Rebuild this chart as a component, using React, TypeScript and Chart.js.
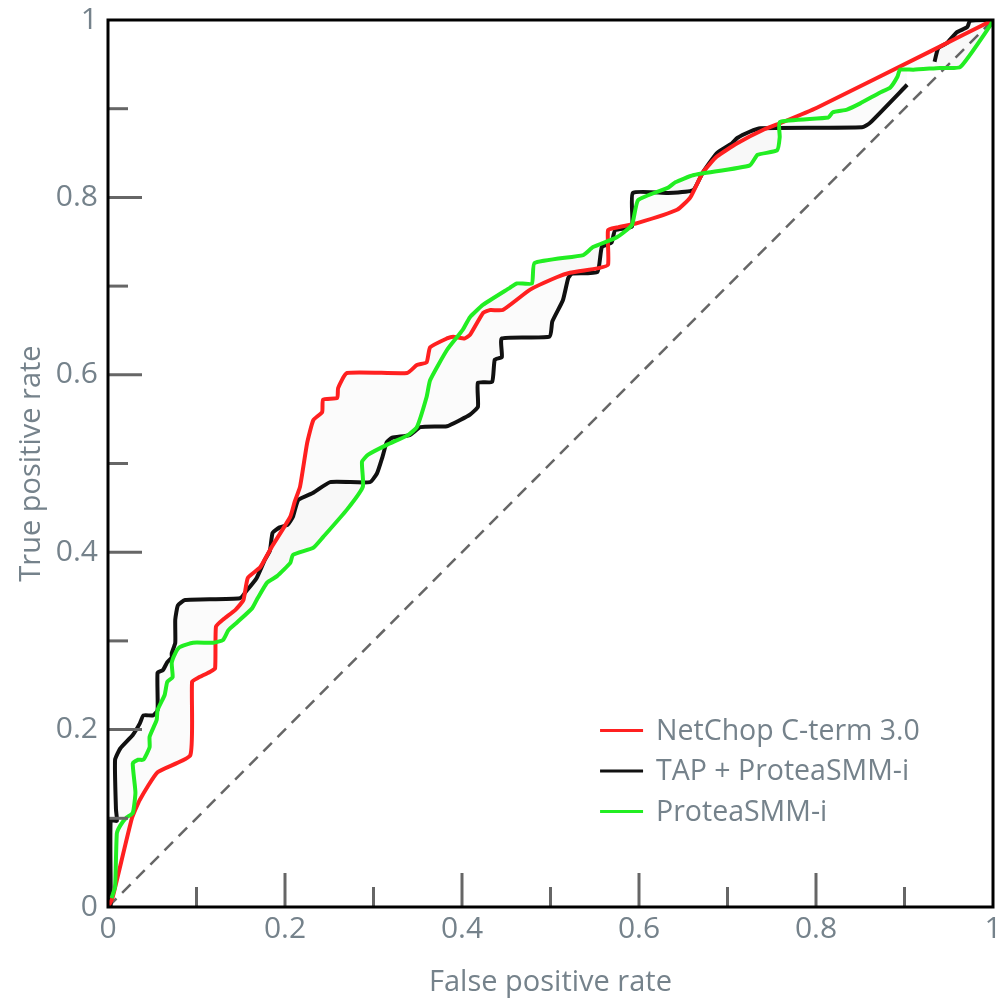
import React, { useEffect, useRef } from "react";
import { Chart, registerables } from "chart.js";

Chart.register(...registerables);

// ---------- Data ----------
const seriesNames = ["NetChop C-term 3.0", "TAP + ProteaSMM-i", "ProteaSMM-i"];
const seriesColors = ["#ff2020", "#111111", "#22ee22"];

const axisTicks = [0, 0.2, 0.4, 0.6, 0.8, 1];
const majorInnerTicks = [0.2, 0.4, 0.6, 0.8];
const minorInnerTicks = [0.1, 0.3, 0.5, 0.7, 0.9];

const netchopFpr = [0, 0.005, 0.027, 0.036, 0.056, 0.093, 0.095, 0.101, 0.115, 0.121, 0.122, 0.13, 0.144, 0.153, 0.158, 0.172, 0.185, 0.206, 0.211, 0.217, 0.225, 0.232, 0.242, 0.243, 0.259, 0.26, 0.27, 0.338, 0.349, 0.36, 0.364, 0.383, 0.39, 0.403, 0.409, 0.424, 0.432, 0.446, 0.477, 0.507, 0.522, 0.553, 0.565, 0.565, 0.575, 0.598, 0.643, 0.658, 0.672, 0.688, 0.711, 0.74, 0.763, 0.801, 0.932, 1];
const netchopTpr = [0, 0.01, 0.1, 0.121, 0.152, 0.171, 0.254, 0.258, 0.265, 0.269, 0.316, 0.324, 0.335, 0.346, 0.371, 0.383, 0.406, 0.44, 0.457, 0.474, 0.523, 0.549, 0.558, 0.572, 0.574, 0.585, 0.602, 0.602, 0.611, 0.614, 0.631, 0.641, 0.643, 0.641, 0.645, 0.67, 0.673, 0.673, 0.696, 0.71, 0.715, 0.72, 0.724, 0.763, 0.766, 0.771, 0.786, 0.8, 0.828, 0.846, 0.861, 0.876, 0.885, 0.901, 0.966, 1];

const tapFpr = [0, 0.003, 0.003, 0.01, 0.009, 0.008, 0.014, 0.028, 0.036, 0.04, 0.051, 0.056, 0.056, 0.062, 0.067, 0.072, 0.072, 0.076, 0.076, 0.079, 0.087, 0.149, 0.157, 0.168, 0.177, 0.183, 0.186, 0.194, 0.203, 0.209, 0.215, 0.232, 0.251, 0.296, 0.304, 0.31, 0.315, 0.321, 0.341, 0.353, 0.383, 0.398, 0.409, 0.418, 0.418, 0.434, 0.437, 0.445, 0.445, 0.499, 0.502, 0.514, 0.52, 0.524, 0.553, 0.558, 0.569, 0.573, 0.592, 0.593, 0.633, 0.661, 0.672, 0.688, 0.705, 0.711, 0.725, 0.737, 0.852, 0.861, 0.903, 0.92, 0.934, 0.938, 0.948, 0.959, 0.971, 0.974, 1];
const tapTpr = [0, 0, 0.098, 0.097, 0.11, 0.166, 0.179, 0.194, 0.207, 0.216, 0.216, 0.222, 0.264, 0.267, 0.276, 0.281, 0.286, 0.298, 0.324, 0.34, 0.346, 0.348, 0.357, 0.371, 0.391, 0.402, 0.422, 0.428, 0.431, 0.44, 0.459, 0.467, 0.479, 0.479, 0.489, 0.507, 0.524, 0.529, 0.532, 0.541, 0.542, 0.549, 0.555, 0.564, 0.591, 0.592, 0.617, 0.62, 0.641, 0.643, 0.66, 0.684, 0.709, 0.714, 0.716, 0.744, 0.749, 0.763, 0.767, 0.805, 0.805, 0.808, 0.828, 0.85, 0.861, 0.867, 0.874, 0.878, 0.879, 0.884, 0.927, null, 0.953, 0.968, 0.974, 0.986, 0.992, 0.999, 1];

const smmFpr = [0.004, 0.008, 0.01, 0.014, 0.021, 0.028, 0.031, 0.028, 0.034, 0.04, 0.047, 0.047, 0.055, 0.056, 0.064, 0.067, 0.073, 0.072, 0.076, 0.081, 0.096, 0.119, 0.13, 0.136, 0.146, 0.163, 0.169, 0.18, 0.191, 0.206, 0.209, 0.232, 0.243, 0.27, 0.288, 0.287, 0.294, 0.315, 0.339, 0.349, 0.36, 0.364, 0.383, 0.401, 0.409, 0.424, 0.454, 0.462, 0.479, 0.482, 0.537, 0.548, 0.575, 0.592, 0.599, 0.633, 0.641, 0.661, 0.725, 0.734, 0.756, 0.759, 0.759, 0.814, 0.819, 0.835, 0.85, 0.872, 0.884, 0.892, 0.895, 0.91, 0.94, 0.963, 0.997, 1];
const smmTpr = [0.01, 0.023, 0.083, 0.092, 0.101, 0.106, 0.129, 0.162, 0.166, 0.166, 0.18, 0.192, 0.211, 0.222, 0.239, 0.254, 0.259, 0.275, 0.286, 0.293, 0.298, 0.298, 0.301, 0.312, 0.321, 0.337, 0.348, 0.366, 0.373, 0.388, 0.397, 0.405, 0.417, 0.448, 0.474, 0.502, 0.51, 0.521, 0.532, 0.541, 0.575, 0.594, 0.628, 0.651, 0.665, 0.679, 0.698, 0.703, 0.703, 0.726, 0.735, 0.744, 0.755, 0.769, 0.797, 0.811, 0.817, 0.825, 0.836, 0.848, 0.853, 0.868, 0.885, 0.89, 0.896, 0.899, 0.906, 0.918, 0.924, 0.936, 0.944, 0.944, 0.946, 0.947, 0.994, 1];

const chanceFpr = [0, 1];
const chanceTpr = [0, 1];

const TEXT_COLOR = "#75828b";
const FONT = "'Open Sans', Lato, sans-serif";

function pts(xs: number[], ys: (number | null)[]) {
  return xs.map((x, i) => ({ x, y: ys[i] }));
}

const decorPlugin = {
  id: "decor",
  afterDatasetsDraw(chart: any) {
    const { ctx, chartArea: a, scales } = chart;
    const xs = scales.x;
    const ys = scales.y;
    ctx.save();
    // inward tick marks
    ctx.strokeStyle = "#666666";
    ctx.lineWidth = 3;
    ctx.lineCap = "butt";
    const drawTicks = (vals: number[], len: number) => {
      for (const v of vals) {
        const px = xs.getPixelForValue(v);
        ctx.beginPath();
        ctx.moveTo(px, a.bottom);
        ctx.lineTo(px, a.bottom - len);
        ctx.stroke();
        const py = ys.getPixelForValue(v);
        ctx.beginPath();
        ctx.moveTo(a.left, py);
        ctx.lineTo(a.left + len, py);
        ctx.stroke();
      }
    };
    drawTicks(majorInnerTicks, 34);
    drawTicks(minorInnerTicks, 20);
    // frame
    ctx.strokeStyle = "#000000";
    ctx.lineWidth = 3;
    ctx.strokeRect(a.left, a.top, a.right - a.left, a.bottom - a.top);
    // legend
    const lx0 = a.left + 0.556 * (a.right - a.left);
    const lyStart = a.top + 0.801 * (a.bottom - a.top);
    const step = 40.5;
    ctx.font = `400 28.5px ${FONT}`;
    ctx.textBaseline = "middle";
    ctx.textAlign = "left";
    seriesNames.forEach((name, i) => {
      const yy = lyStart + i * step;
      ctx.strokeStyle = seriesColors[i];
      ctx.lineWidth = 3;
      ctx.beginPath();
      ctx.moveTo(lx0, yy);
      ctx.lineTo(lx0 + 43, yy);
      ctx.stroke();
      ctx.fillStyle = TEXT_COLOR;
      ctx.fillText(name, lx0 + 56, yy + 1);
    });
    ctx.restore();
  },
};

const fmt = (v: any) => String(v);

export default function App() {
  const ref = useRef<HTMLCanvasElement | null>(null);
  useEffect(() => {
    if (!ref.current) return;
    const chart = new Chart(ref.current, {
      type: "line",
      data: {
        datasets: [
          {
            label: seriesNames[0],
            data: pts(netchopFpr, netchopTpr),
            borderColor: seriesColors[0],
            borderWidth: 4,
            pointRadius: 0,
            tension: 0.15,
            fill: { target: 2 },
            backgroundColor: "rgba(0,0,0,0.014)",
            order: 1,
          },
          {
            label: seriesNames[1],
            data: pts(tapFpr, tapTpr),
            borderColor: seriesColors[1],
            borderWidth: 4,
            pointRadius: 0,
            tension: 0.15,
            spanGaps: false,
            fill: { target: 2 },
            backgroundColor: "rgba(0,0,0,0.014)",
            order: 2,
          },
          {
            label: seriesNames[2],
            data: pts(smmFpr, smmTpr),
            borderColor: seriesColors[2],
            borderWidth: 4,
            pointRadius: 0,
            tension: 0.15,
            fill: false,
            order: 0,
          },
          {
            label: "chance",
            data: pts(chanceFpr, chanceTpr),
            borderColor: "#666666",
            borderWidth: 2.5,
            borderDash: [12, 8],
            pointRadius: 0,
            fill: false,
            order: 3,
          },
        ],
      },
      options: {
        animation: false,
        responsive: true,
        maintainAspectRatio: false,
        layout: { padding: { top: 20, right: 15, left: 0, bottom: 0 } },
        plugins: {
          legend: { display: false },
          tooltip: { enabled: false },
        },
        scales: {
          x: {
            type: "linear",
            min: 0,
            max: 1,
            afterBuildTicks: (s: any) => {
              s.ticks = axisTicks.map((v) => ({ value: v }));
            },
            afterFit: (s: any) => {
              s.height = 94;
              s.paddingLeft = 0;
              s.paddingRight = 0;
            },
            grid: { display: false, drawTicks: false },
            border: { display: false },
            ticks: {
              padding: 4,
              color: TEXT_COLOR,
              font: { family: FONT, size: 30, weight: "400" },
              maxRotation: 0,
              callback: fmt,
            },
            title: {
              display: true,
              text: "False positive rate",
              color: TEXT_COLOR,
              font: { family: FONT, size: 29, weight: "400" },
              padding: { top: 0, bottom: 1 },
            },
          },
          y: {
            type: "linear",
            min: 0,
            max: 1,
            afterBuildTicks: (s: any) => {
              s.ticks = axisTicks.map((v) => ({ value: v }));
            },
            afterFit: (s: any) => {
              s.width = 108;
              s.paddingTop = 0;
              s.paddingBottom = 0;
            },
            grid: { display: false, drawTicks: false },
            border: { display: false },
            ticks: {
              padding: 10,
              color: TEXT_COLOR,
              font: { family: FONT, size: 30, weight: "400" },
              callback: fmt,
            },
            title: {
              display: true,
              text: "True positive rate",
              color: TEXT_COLOR,
              font: { family: FONT, size: 29, weight: "400" },
              padding: { top: 14, bottom: 0 },
            },
          },
        },
      },
      plugins: [decorPlugin],
    });
    return () => chart.destroy();
  }, []);

  return (
    <div style={{ position: "absolute", left: 0, top: 0, width: 1008, height: 1001, background: "#ffffff" }}>
      <canvas ref={ref} />
    </div>
  );
}
